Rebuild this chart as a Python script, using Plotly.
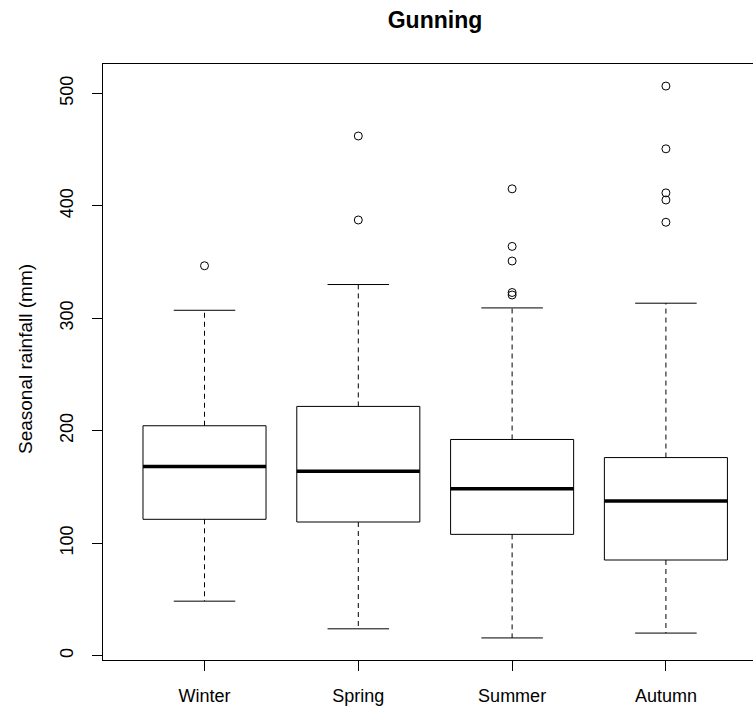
import plotly.graph_objects as go

# ---- data ----
seasons = ["Winter", "Spring", "Summer", "Autumn"]
lower_whisker = [48.4, 23.8, 15.7, 20.0]
q1 = [121.2, 118.8, 107.8, 85.0]
median = [168.2, 164.0, 148.4, 137.5]
q3 = [204.4, 221.6, 192.2, 176.1]
upper_whisker = [307.1, 330.0, 309.2, 313.4]
outliers_winter = [346.7]
outliers_spring = [387.4, 462.1]
outliers_summer = [320.7, 322.9, 350.9, 363.9, 415.1]
outliers_autumn = [385.4, 405.2, 411.5, 450.7, 506.5]
outliers = [outliers_winter, outliers_spring, outliers_summer, outliers_autumn]
y_ticks = [0, 100, 200, 300, 400, 500]

FONT = "Liberation Sans, Arial, sans-serif"
BOXW = 0.4     # half box width
STAPLE = 0.2   # half staple width

pos = list(range(1, len(seasons) + 1))

box_x, box_y = [], []
med_x, med_y = [], []
wh_x, wh_y = [], []
st_x, st_y = [], []
out_x, out_y = [], []
for i, p in enumerate(pos):
    box_x += [p - BOXW, p + BOXW, p + BOXW, p - BOXW, p - BOXW, None]
    box_y += [q1[i], q1[i], q3[i], q3[i], q1[i], None]
    med_x += [p - BOXW, p + BOXW, None]
    med_y += [median[i], median[i], None]
    wh_x += [p, p, None, p, p, None]
    wh_y += [q3[i], upper_whisker[i], None, q1[i], lower_whisker[i], None]
    st_x += [p - STAPLE, p + STAPLE, None, p - STAPLE, p + STAPLE, None]
    st_y += [upper_whisker[i], upper_whisker[i], None, lower_whisker[i], lower_whisker[i], None]
    for v in outliers[i]:
        out_x.append(p)
        out_y.append(v)

fig = go.Figure()
fig.add_trace(go.Scatter(x=wh_x, y=wh_y, mode="lines",
                         line=dict(color="black", width=1, dash="5px,4px")))
fig.add_trace(go.Scatter(x=st_x, y=st_y, mode="lines",
                         line=dict(color="black", width=1)))
fig.add_trace(go.Scatter(x=box_x, y=box_y, mode="lines",
                         line=dict(color="black", width=1)))
fig.add_trace(go.Scatter(x=med_x, y=med_y, mode="lines",
                         line=dict(color="black", width=3.5)))
fig.add_trace(go.Scatter(x=out_x, y=out_y, mode="markers",
                         marker=dict(symbol="circle-open", size=8,
                                     color="black", line=dict(width=1))))

all_vals = lower_whisker + upper_whisker + [v for o in outliers for v in o]
lo, hi = min(all_vals), max(all_vals)
rng = hi - lo
y_range = [lo - 0.04 * rng, hi + 0.04 * rng]

W, H = 753, 706
L, R, T, B = 103, 0, 64, 46
plot_w = W - L - R
plot_h = H - T - B
x0 = 0.34
x_range = [x0, x0 + plot_w / 153.8]

fig.update_layout(
    width=W, height=H,
    margin=dict(l=L, r=R, t=T, b=B),
    paper_bgcolor="white", plot_bgcolor="white",
    showlegend=False,
    hovermode=False,
    font=dict(family=FONT, size=18, color="black"),
    title=dict(text="Gunning", x=(435 - L) / plot_w, xref="paper",
               xanchor="center", y=1 - 20 / H, yref="container",
               yanchor="middle",
               font=dict(family=FONT, size=23, color="black", weight="bold")),
    xaxis=dict(range=x_range, tickvals=pos, ticktext=seasons,
               showgrid=False, zeroline=False, showline=True,
               linecolor="black", linewidth=1, mirror=True,
               ticks="outside", ticklen=10, tickcolor="black",
               ticklabelstandoff=9,
               tickfont=dict(family=FONT, size=18, color="black")),
    yaxis=dict(range=y_range, tickvals=y_ticks,
               showgrid=False, zeroline=False, showline=True,
               linecolor="black", linewidth=1, mirror=False,
               ticks="outside", ticklen=10, tickcolor="black",
               tickangle=-90, ticklabelstandoff=12,
               tickfont=dict(family=FONT, size=18, color="black")),
    annotations=[dict(text="Seasonal rainfall (mm)", textangle=-90,
                      xref="paper", yref="paper",
                      x=(25 - L) / plot_w, y=(H - B - 359) / plot_h,
                      xanchor="center", yanchor="middle", showarrow=False,
                      font=dict(family=FONT, size=19, color="black"))],
)

fig.write_html(
    "out.html",
    config={"displayModeBar": False, "staticPlot": True},
    post_script="document.body.style.margin='0';document.body.style.overflow='hidden';",
)
